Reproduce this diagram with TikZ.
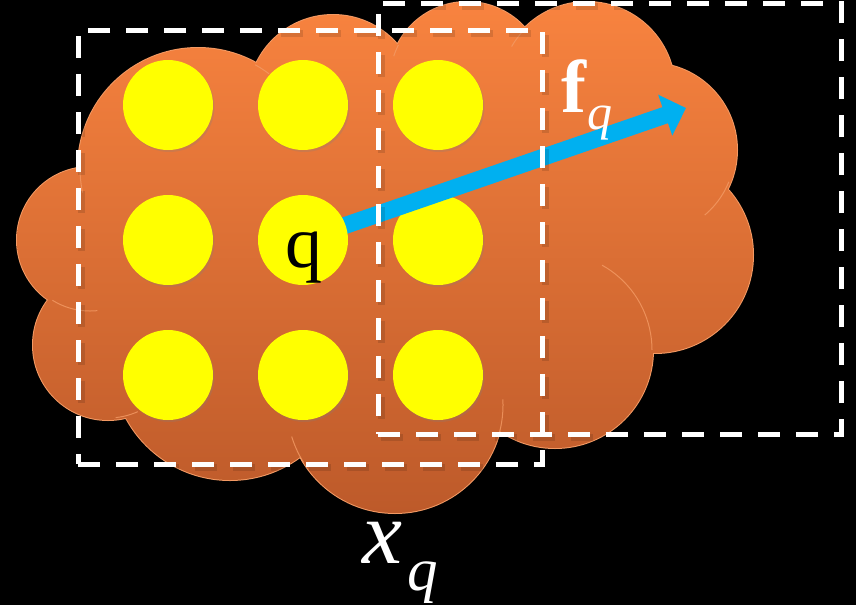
\documentclass[tikz,border=0pt]{standalone}
\usepackage{fontspec}
\setmainfont{Liberation Serif}
\usetikzlibrary{arrows.meta,shadows}
\definecolor{cloudtop}{HTML}{F8833F}
\definecolor{cloudbot}{HTML}{BD5A2A}
\definecolor{cloudline}{HTML}{F39A64}
\definecolor{arrowblue}{HTML}{00B0F0}
\definecolor{dotyellow}{HTML}{FFFF00}
\pgfdeclarelayer{front}
\pgfsetlayers{main,front}
\begin{document}
\begin{tikzpicture}[x=1pt,y=-1pt,
  dot/.style={circle,fill=dotyellow,minimum size=90pt,inner sep=0pt,
    drop shadow={opacity=0.25,shadow xshift=1.5pt,shadow yshift=-2pt}},
  dashbox/.style={draw=white,line width=5pt,dash pattern=on 22pt off 16pt,
    rectangle,inner sep=0pt},
  dashshadow/.style={draw=black,line width=7pt,dash pattern=on 22pt off 16pt,
    rectangle,inner sep=0pt,opacity=0.12},
  arcline/.style={cloudline,line width=1pt,opacity=0.8},
  whitetext/.style={text=white,inner sep=0pt,anchor=base west}]
\fill[black] (0,0) rectangle (856,605);
\useasboundingbox (0,0) rectangle (856,605);
% cloud outline
\draw[cloudline,line width=2pt]
  (198,168) circle (120pt) (333,100) circle (85pt) (467,80) circle (78pt)
  (587,90) circle (88pt) (650,150) circle (87pt) (655,255) circle (98pt)
  (555,350) circle (98pt) (395,405) circle (108pt) (230,362) circle (118pt)
  (108,345) circle (75pt) (90,240) circle (73pt);
% cloud body
\shade[top color=cloudtop,bottom color=cloudbot]
  (198,168) circle (120pt) (333,100) circle (85pt) (467,80) circle (78pt)
  (587,90) circle (88pt) (650,150) circle (87pt) (655,255) circle (98pt)
  (555,350) circle (98pt) (395,405) circle (108pt) (230,362) circle (118pt)
  (108,345) circle (75pt) (90,240) circle (73pt) (400,260) circle (180pt)
  (560,205) circle (100pt);
% faint inner arcs of the cloud
\draw[arcline] plot[domain=22:50,samples=20] ({650+85*cos(\x)},{150+85*sin(\x)});
\draw[arcline] plot[domain=-61:0,samples=20] ({555+97*cos(\x)},{350+97*sin(\x)});
\draw[arcline] plot[domain=-3:16,samples=20] ({395+108*cos(\x)},{405+108*sin(\x)});
\draw[arcline] plot[domain=148:163,samples=20] ({395+108*cos(\x)},{405+108*sin(\x)});
\draw[arcline] plot[domain=66:84,samples=20] ({108+73*cos(\x)},{345+73*sin(\x)});
\draw[arcline] plot[domain=84:122,samples=20] ({90+71*cos(\x)},{240+71*sin(\x)});
\draw[arcline] plot[domain=168:180,samples=20] ({198+118*cos(\x)},{168+118*sin(\x)});
\draw[arcline] plot[domain=-61:-53,samples=20] ({198+118*cos(\x)},{168+118*sin(\x)});
\draw[arcline] plot[domain=198:207,samples=20] ({467+77*cos(\x)},{80+77*sin(\x)});
\draw[arcline] plot[domain=210:225,samples=20] ({587+87*cos(\x)},{90+87*sin(\x)});
% dots
\node[dot] (c11) at (168,105) {};
\node[dot] (c12) at (303,105) {};
\node[dot] (c13) at (438,105) {};
\node[dot] (c21) at (168,240) {};
\node[dot] (c23) at (438,240) {};
\node[dot] (c31) at (168,375) {};
\node[dot] (c32) at (303,375) {};
\node[dot] (c33) at (438,375) {};
\begin{pgfonlayer}{front}
\node[circle,fill=dotyellow,minimum size=90pt,inner sep=0pt] (c22) at (303,240) {};
\node[anchor=base,inner sep=0pt,font=\fontsize{74}{74}\selectfont] (qlab) at (304,267) {q};
\node[dashshadow,minimum width=464pt,minimum height=434pt] (boxLs) at (313,250) {};
\node[dashshadow,minimum width=463pt,minimum height=431pt] (boxRs) at (612.5,221.5) {};
\node[dashbox,minimum width=464pt,minimum height=434pt] (boxL) at (310,247) {};
\node[dashbox,minimum width=463pt,minimum height=431pt] (boxR) at (609.5,218.5) {};
\node[whitetext,font=\fontsize{75}{75}\selectfont\bfseries] (flab) at (561,112) {f};
\node[whitetext,font=\fontsize{50}{50}\selectfont\itshape] (fsub) at (587,129) {q};
\node[whitetext,font=\fontsize{90}{90}\selectfont\itshape] (xlab) at (362,563) {x};
\node[whitetext,font=\fontsize{61}{61}\selectfont\itshape] (xsub) at (407,590) {q};
\end{pgfonlayer}
% arrow
\coordinate (tip) at (686,108);
\draw[arrowblue,line width=17pt,-{Triangle[length=22pt,width=42pt]}] (c22.center) -- (tip);
\end{tikzpicture}
\end{document}
